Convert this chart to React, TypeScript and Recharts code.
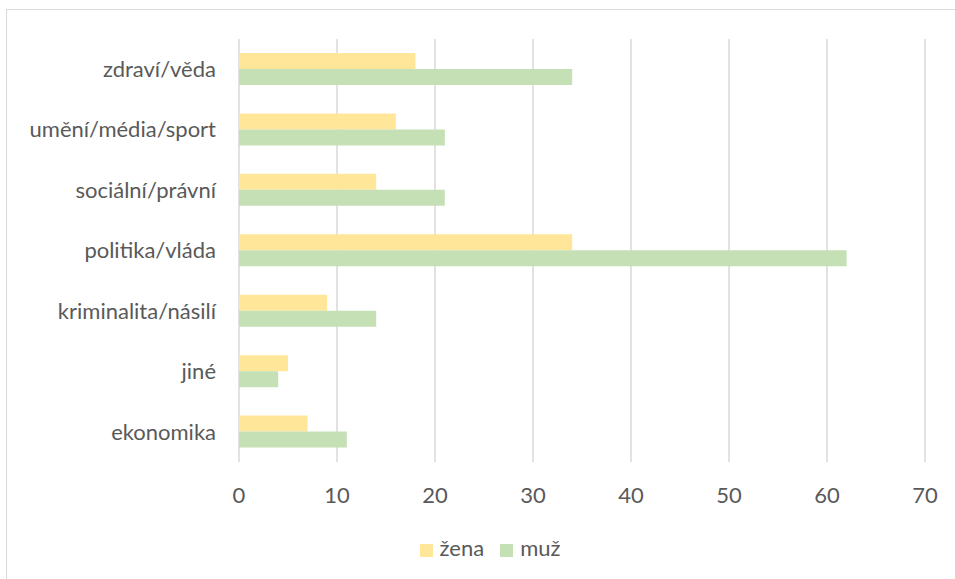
import { BarChart, Bar, XAxis, YAxis, CartesianGrid, Legend } from 'recharts';

const categories = [
  'zdraví/věda',
  'umění/média/sport',
  'sociální/právní',
  'politika/vláda',
  'kriminalita/násilí',
  'jiné',
  'ekonomika',
];
const zena = [18, 16, 14, 34, 9, 5, 7];
const muz = [34, 21, 21, 62, 14, 4, 11];
const xTicks = [0, 10, 20, 30, 40, 50, 60, 70];
const seriesOrder = ['žena', 'muž'];

const data = categories.map((name, i) => ({ name, zena: zena[i], muz: muz[i] }));

const font = 'Lato, "Open Sans", sans-serif';
const textColor = '#595959';

export default function App() {
  return (
    <div
      style={{
        position: 'absolute',
        left: 6,
        top: 9,
        width: 948,
        height: 590,
        border: '1px solid #d9d9d9',
        background: '#fff',
        fontFamily: font,
      }}
    >
      <BarChart
        width={948}
        height={568}
        data={data}
        layout="vertical"
        barSize={16}
        barGap={0}
        margin={{ top: 29, right: 30, left: 0, bottom: 0 }}
      >
        <CartesianGrid horizontal={false} stroke="#d9d9d9" strokeWidth={1.5} />
        <XAxis
          type="number"
          domain={[0, 70]}
          ticks={xTicks}
          axisLine={false}
          tickLine={false}
          tickSize={0}
          tickMargin={25}
          height={88}
          tick={{ fill: textColor, fontSize: 22, fontFamily: font }}
        />
        <YAxis
          type="category"
          dataKey="name"
          width={232}
          axisLine={false}
          tickLine={false}
          tickSize={0}
          tickMargin={23}
          tick={{ fill: textColor, fontSize: 22, fontFamily: font }}
        />
        <Legend
          verticalAlign="bottom"
          iconType="square"
          iconSize={13}
          itemSorter={(item: any) => seriesOrder.indexOf(item.value)}
          wrapperStyle={{ top: 524, left: 32, height: 28, lineHeight: '28px', fontSize: 22, fontFamily: font }}
          formatter={(value) => (
            <span style={{ color: textColor, marginLeft: 3, marginRight: 6 }}>{value}</span>
          )}
        />
        <Bar dataKey="zena" name="žena" fill="#FFE699" isAnimationActive={false} />
        <Bar dataKey="muz" name="muž" fill="#C5E0B4" isAnimationActive={false} />
      </BarChart>
    </div>
  );
}
